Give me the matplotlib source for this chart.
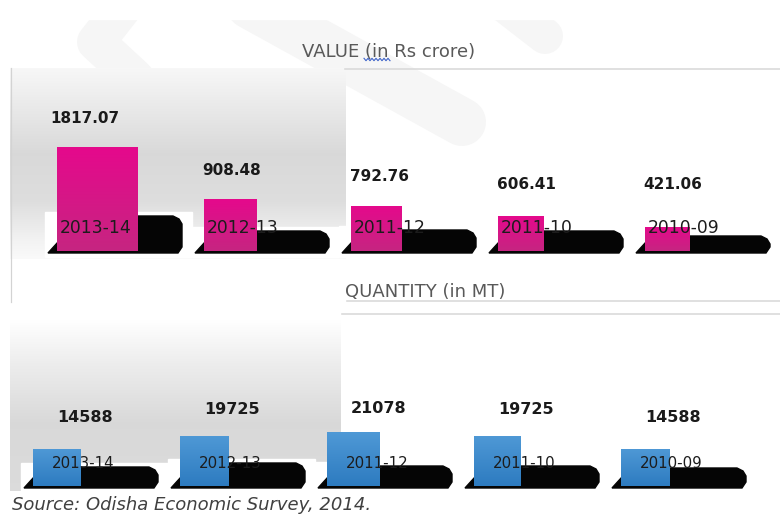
import numpy as np
import matplotlib
matplotlib.use('Agg')
import matplotlib.pyplot as plt
from matplotlib.patches import Rectangle, Polygon
from matplotlib.lines import Line2D

# ---------------- data ----------------
years = ['2013-14', '2012-13', '2011-12', '2011-10', '2010-09']
value_crore = [1817.07, 908.48, 792.76, 606.41, 421.06]
value_labels = ['1817.07', '908.48', '792.76', '606.41', '421.06']
quantity_mt = [14588, 19725, 21078, 19725, 14588]
quantity_labels = ['14588', '19725', '21078', '19725', '14588']

value_title = 'VALUE (in Rs crore)'
quantity_title = 'QUANTITY (in MT)'
source_text = 'Source: Odisha Economic Survey, 2014.'

# ---------------- figure ----------------
W, H = 780, 530
fig = plt.figure(figsize=(7.8, 5.3), dpi=100)
bg = fig.add_axes([0, 0, 1, 1])
bg.axis('off')


def px(v):
    return v * 0.72  # pixel -> points at 100 dpi


def vgrad(ax, x0, x1, y0, y1, stops, zorder=0):
    t = np.linspace(0, 1, 256)
    col = np.interp(t, [s[0] for s in stops], [s[1] for s in stops])
    img = np.repeat(col[:, None], 2, axis=1)
    img = np.dstack([img, img, img])
    ax.imshow(img, extent=(x0, x1, y1, y0), aspect='auto',
              interpolation='bilinear', zorder=zorder)


# faint watermark bands
wm = '#f6f6f6'
for pts, lw in [([(125, 5), (96, 42), (135, 78)], 38),
                ([(250, 5), (462, 122)], 48),
                ([(505, 5), (545, 36)], 36)]:
    xs, ys = zip(*pts)
    bg.add_line(Line2D(xs, ys, color=wm, lw=px(lw), solid_capstyle='round',
                       solid_joinstyle='round', zorder=0.5))
bg.add_patch(Rectangle((0, -20), W, 39, color='white', zorder=0.6))

# gradient boxes (left side)
vgrad(bg, 10, 346, 68, 259, [(0, 0.97), (0.15, 0.93), (0.45, 0.85),
                             (0.7, 0.87), (0.9, 0.95), (1, 0.98)], zorder=1)
vgrad(bg, 10, 341, 320, 491, [(0, 1.0), (0.25, 0.93), (0.6, 0.85),
                              (1, 0.86)], zorder=1)

# rules
bg.add_line(Line2D([345, 780], [69, 69], color='#d9d9d9', lw=px(1.6), zorder=2))
bg.add_line(Line2D([347, 780], [301, 301], color='#d9d9d9', lw=px(1.6), zorder=2))
bg.add_line(Line2D([342, 780], [314, 314], color='#d9d9d9', lw=px(1.6), zorder=2))
bg.add_line(Line2D([11, 11], [68, 302], color='#d3d3d3', lw=px(1.2), zorder=2))

# titles
bg.text(389, 52, value_title, ha='center', va='center', fontsize=13,
        color='#595959', zorder=3)
sq_x = np.linspace(364, 390, 14)
sq_y = 59.5 + np.where(np.arange(14) % 2 == 0, -1.2, 1.2)
bg.add_line(Line2D(sq_x, sq_y, color='#3d63c9', lw=px(1.1), zorder=3))
bg.text(345, 292, quantity_title, ha='left', va='center', fontsize=13,
        color='#595959', zorder=3)
bg.text(12, 505, source_text, ha='left', va='center', fontsize=13,
        style='italic', color='#404040', zorder=3)

bg.set_xlim(0, W)
bg.set_ylim(H, 0)


def panel_axes(left_px, unit_px, xlim, base_px, kpx, ylim):
    x0 = left_px + xlim[0] * unit_px
    x1 = left_px + xlim[1] * unit_px
    ytop = base_px - ylim[1] * kpx
    ybot = base_px - ylim[0] * kpx
    ax = fig.add_axes([x0 / W, (H - ybot) / H, (x1 - x0) / W, (ybot - ytop) / H])
    ax.set_xlim(*xlim)
    ax.set_ylim(*ylim)
    ax.axis('off')
    ax.patch.set_alpha(0)
    return ax


def draw_panel(ax, vals, labels, widths, unit_px, kpx, shadow_px, c_top, c_bot,
               cat_fs, cat_dx_px, cat_y_px, lab_x_px, lab_y, lab_fs):
    ux, uy = 1.0 / unit_px, 1.0 / kpx
    n = len(vals)
    bars = ax.bar(range(n), vals, width=widths, align='edge',
                  color=c_top, zorder=4, linewidth=0)
    for i, (b, v) in enumerate(zip(bars, vals)):
        L = b.get_x()
        R = L + 125 * ux
        top = shadow_px[i] * uy
        # white backing
        ax.add_patch(Rectangle((L - 12 * ux, -6 * uy), 147 * ux,
                               (shadow_px[i] + 10) * uy, color='white',
                               zorder=1, clip_on=False))
        # black shadow slab (small wedge peeks out at bottom-left of bar)
        pts = [(L - 9 * ux, -2 * uy), (L + 1 * ux, 9 * uy), (L + 1 * ux, top),
               (R - 9 * ux, top), (R - 3 * ux, top - 3 * uy), (R, top - 8 * uy),
               (R, 4 * uy), (R - 4 * ux, -2 * uy)]
        ax.add_patch(Polygon(pts, closed=True, color='#050505', zorder=2,
                             clip_on=False))
        # gradient fill on the bar
        g = np.linspace(0, 1, 128)[:, None]
        ct = np.array(matplotlib.colors.to_rgb(c_top))
        cb = np.array(matplotlib.colors.to_rgb(c_bot))
        img = (ct[None, None, :] * (1 - g[..., None]) + cb[None, None, :] * g[..., None])
        img = np.repeat(img, 2, axis=1)
        im = ax.imshow(img, extent=(L, L + b.get_width(), 0, v), aspect='auto',
                       interpolation='bilinear', zorder=5)
        im.set_clip_path(b)
        # category text
        ax.text(L + cat_dx_px * ux, cat_y_px * uy, years[i], ha='left',
                va='center', fontsize=cat_fs, color='#1c1c1c', zorder=6)
        # value label
        ax.text(L + lab_x_px * ux, lab_y[i], labels[i], ha='center',
                va='center', fontsize=lab_fs, fontweight='bold',
                color='#1a1a1a', zorder=6)


# ---- upper panel: value ----
k_up = 0.0572
ax1 = panel_axes(57, 147, (-0.3, 4.9), 251, k_up, (-150, 3100))
lab_y_up = [max(v, 664) + 507 for v in value_crore]
draw_panel(ax1, value_crore, value_labels, [0.55, 0.355, 0.345, 0.31, 0.305],
           147, k_up, [35, 20, 21, 20, 15], '#e5098c', '#c62581',
           12.3, 3, 23, 28, lab_y_up, 11)
ax1.set_xlim(-0.3, 4.9)
ax1.set_ylim(-150, 3100)

# ---- lower panel: quantity ----
k_lo = 0.00254
ax2 = panel_axes(33, 147, (-0.15, 5.0), 486, k_lo, (-1800, 60000))
lab_y_lo = [0.546 * v + 19200 for v in quantity_mt]
draw_panel(ax2, quantity_mt, quantity_labels, [0.32, 0.33, 0.36, 0.315, 0.33],
           147, k_lo, [19, 23, 20, 20, 18], '#4f99d6', '#2d7bc0',
           10.8, 19, 23, 52, lab_y_lo, 11.5)
ax2.set_xlim(-0.15, 5.0)
ax2.set_ylim(-1800, 60000)

fig.savefig('out.png', dpi=100)
